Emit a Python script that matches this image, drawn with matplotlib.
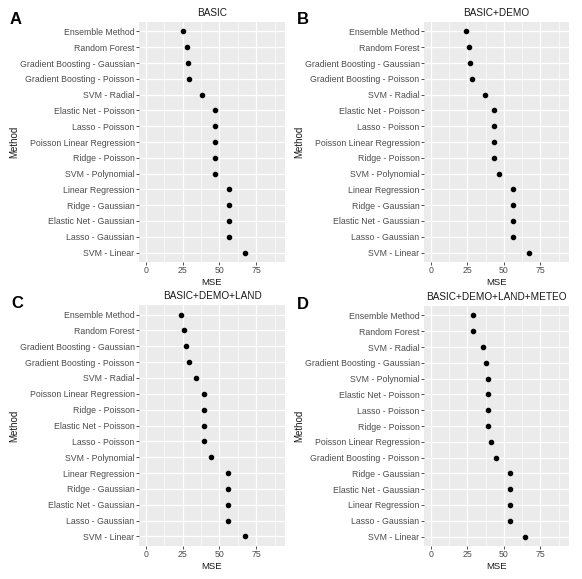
import matplotlib.pyplot as plt
import numpy as np

plt.rcParams['font.family'] = ['Liberation Sans', 'DejaVu Sans']

titles = ['BASIC', 'BASIC+DEMO', 'BASIC+DEMO+LAND', 'BASIC+DEMO+LAND+METEO']
letters = ['A', 'B', 'C', 'D']

methods_a = ['Ensemble Method', 'Random Forest', 'Gradient Boosting - Gaussian',
             'Gradient Boosting - Poisson', 'SVM - Radial', 'Elastic Net - Poisson',
             'Lasso - Poisson', 'Poisson Linear Regression', 'Ridge - Poisson',
             'SVM - Polynomial', 'Linear Regression', 'Ridge - Gaussian',
             'Elastic Net - Gaussian', 'Lasso - Gaussian', 'SVM - Linear']
mse_a = [25.2, 28.1, 28.8, 29.6, 38.0, 46.7, 46.7, 46.7, 46.7, 46.7,
         56.4, 56.4, 56.4, 56.8, 67.1]

methods_b = ['Ensemble Method', 'Random Forest', 'Gradient Boosting - Gaussian',
             'Gradient Boosting - Poisson', 'SVM - Radial', 'Elastic Net - Poisson',
             'Lasso - Poisson', 'Poisson Linear Regression', 'Ridge - Poisson',
             'SVM - Polynomial', 'Linear Regression', 'Ridge - Gaussian',
             'Elastic Net - Gaussian', 'Lasso - Gaussian', 'SVM - Linear']
mse_b = [23.9, 25.9, 26.8, 28.0, 37.0, 43.4, 43.4, 43.4, 43.4, 46.4,
         56.4, 56.4, 56.4, 56.4, 67.0]

methods_c = ['Ensemble Method', 'Random Forest', 'Gradient Boosting - Gaussian',
             'Gradient Boosting - Poisson', 'SVM - Radial', 'Poisson Linear Regression',
             'Ridge - Poisson', 'Elastic Net - Poisson', 'Lasso - Poisson',
             'SVM - Polynomial', 'Linear Regression', 'Ridge - Gaussian',
             'Elastic Net - Gaussian', 'Lasso - Gaussian', 'SVM - Linear']
mse_c = [24.3, 26.1, 27.7, 29.3, 34.0, 39.9, 39.9, 39.9, 39.9, 44.4,
         56.1, 56.1, 56.1, 56.1, 67.3]

methods_d = ['Ensemble Method', 'Random Forest', 'SVM - Radial',
             'Gradient Boosting - Gaussian', 'SVM - Polynomial', 'Elastic Net - Poisson',
             'Lasso - Poisson', 'Ridge - Poisson', 'Poisson Linear Regression',
             'Gradient Boosting - Poisson', 'Ridge - Gaussian', 'Elastic Net - Gaussian',
             'Linear Regression', 'Lasso - Gaussian', 'SVM - Linear']
mse_d = [29.1, 29.1, 35.9, 37.9, 39.1, 39.5, 39.5, 39.5, 41.4, 44.8,
         54.5, 54.5, 54.5, 54.5, 64.3]

panels = [(methods_a, mse_a), (methods_b, mse_b), (methods_c, mse_c), (methods_d, mse_d)]

W, H = 582, 579
fig = plt.figure(figsize=(W / 100, H / 100), dpi=100)

# plot boxes in pixels: left, top, right, bottom
boxes = [(139, 22, 285, 262), (424, 22, 569, 262),
         (139, 305, 285, 546), (424, 306, 569, 546)]
letter_pos = [(10, 19), (297, 19), (11, 303), (297, 304)]
ylab_x = [19, 304, 19, 304]

for i, (methods, mse) in enumerate(panels):
    l, t, r, b = boxes[i]
    ax = fig.add_axes([l / W, 1 - b / H, (r - l) / W, (b - t) / H])
    ax.set_facecolor('#EBEBEB')
    y = np.arange(len(methods))
    ax.scatter(mse, y, s=9, color='black', zorder=3)
    ax.set_xlim(-4.5, 94.5)
    ax.set_ylim(len(methods) - 0.4, -0.6)
    ax.set_xticks([0, 25, 50, 75])
    ax.set_xticks([12.5, 37.5, 62.5, 87.5], minor=True)
    ax.set_yticks(y)
    ax.set_yticklabels(methods)
    ax.grid(True, which='major', color='white', linewidth=0.9)
    ax.grid(True, which='minor', axis='x', color='white', linewidth=0.45)
    ax.set_axisbelow(True)
    for s in ax.spines.values():
        s.set_visible(False)
    ax.tick_params(which='major', length=2, width=0.6, color='#333333',
                   labelsize=6.3, labelcolor='#4D4D4D', pad=1.2)
    ax.tick_params(which='minor', length=0)
    ax.set_title(titles[i], fontsize=7.2, color='#1A1A1A', pad=4)
    ax.set_xlabel('MSE', fontsize=6.8, color='#1A1A1A', labelpad=1.5)
    ax.set_ylabel('Method', fontsize=7, color='#1A1A1A')
    ax.yaxis.set_label_coords(ylab_x[i] / W, 1 - ((t + b) / 2) / H,
                              transform=fig.transFigure)
    lx, ly = letter_pos[i]
    fig.text(lx / W, 1 - ly / H, letters[i], fontsize=12, fontweight='bold',
             ha='left', va='center')

fig.savefig('out.png', dpi=100)
